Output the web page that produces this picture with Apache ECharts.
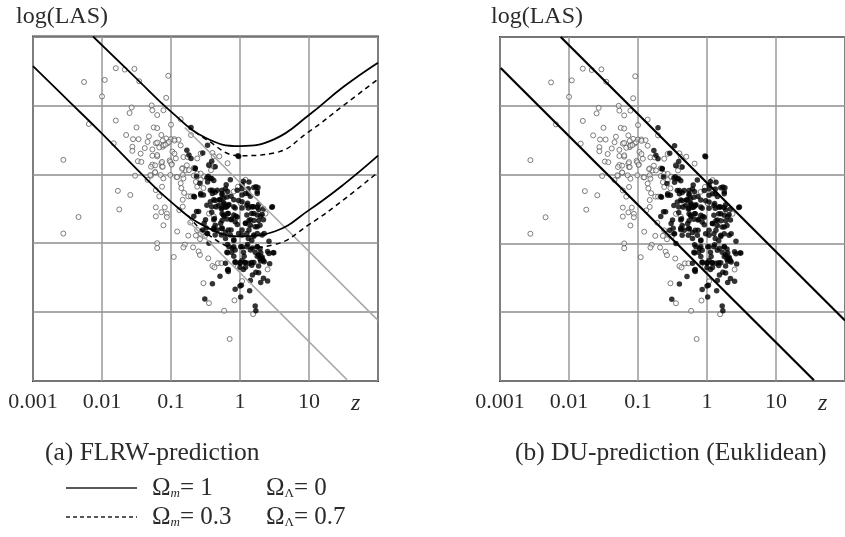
<!DOCTYPE html>
<html><head><meta charset="utf-8">
<style>html,body{margin:0;padding:0;background:#fff}#c{width:845px;height:537px}</style>
<script src="https://cdn.jsdelivr.net/npm/echarts@6/dist/echarts.min.js"></script>
</head><body><div id="c"></div>
<script>
const tickLabels = {'-3':'0.001','-2':'0.01','-1':'0.1','0':'1','1':'10'};

const openPoints = [[-1.80,4.54],[-1.67,4.52],[-1.53,4.53],[-2.26,4.34],[-1.96,4.37],[-1.46,4.35],[-1.04,4.43],[-2.00,4.13],[-1.07,4.11],[-1.28,4.00],[-1.57,3.97],[-1.60,3.89],[-1.27,3.93],[-1.20,3.86],[-1.11,3.93],[-1.80,3.78],[-2.19,3.73],[-1.00,3.72],[-1.50,3.68],[-1.25,3.68],[-1.20,3.67],[-1.65,3.57],[-1.83,3.45],[-1.55,3.51],[-1.47,3.51],[-1.56,3.40],[-1.56,3.34],[-2.56,3.21],[-1.38,3.38],[-1.34,3.47],[-1.32,3.55],[-1.44,3.30],[-1.27,3.36],[-1.27,3.27],[-1.20,3.26],[-1.22,3.45],[-1.14,3.57],[-1.07,3.52],[-1.00,3.51],[-0.95,3.51],[-0.89,3.50],[-1.05,3.45],[-1.12,3.40],[-1.11,3.43],[-0.98,3.33],[-0.95,3.30],[-0.86,3.42],[-0.71,3.57],[-0.86,3.80],[-1.48,3.19],[-1.43,3.18],[-1.27,3.14],[-1.14,3.16],[-1.13,3.11],[-1.02,3.20],[-0.99,3.15],[-0.83,3.09],[-0.79,3.06],[-0.74,3.06],[-0.67,3.09],[-0.82,3.25],[-0.76,3.25],[-1.52,2.98],[-1.29,2.98],[-1.23,3.03],[-1.34,2.92],[-0.92,2.96],[-0.83,2.99],[-0.86,2.87],[-0.67,2.98],[-0.62,3.01],[-0.57,3.01],[-0.52,2.97],[-0.57,2.92],[-0.64,2.89],[-1.77,2.76],[-1.59,2.70],[-1.75,2.49],[-2.34,2.38],[-2.56,2.14],[-1.22,2.52],[-1.13,2.82],[-1.22,2.77],[-1.17,2.68],[-1.09,2.52],[-1.14,2.45],[-1.22,2.39],[-1.06,2.43],[-1.06,2.38],[-1.11,2.26],[-0.91,2.17],[-0.75,2.11],[-0.64,2.11],[-0.58,2.06],[-0.51,2.10],[-1.20,2.00],[-1.20,1.93],[-0.80,1.98],[-0.82,1.94],[-0.68,1.94],[-0.60,1.88],[-0.58,1.83],[-0.96,1.80],[-0.46,1.78],[-0.40,1.67],[-0.37,1.65],[-0.32,1.71],[-0.27,1.71],[-0.53,1.42],[-0.45,1.13],[-0.23,1.02],[-0.08,1.17],[-0.15,0.61],[0.19,0.97],[0.03,1.45],[-0.03,1.66],[0.40,1.62],[0.37,2.43],[-0.72,2.30],[-0.88,2.48],[-0.83,2.53],[-0.85,2.80],[-0.81,2.73],[-0.75,2.68],[-0.71,2.68],[-0.83,2.63],[-0.62,2.82],[-0.53,2.80],[-0.45,2.43],[-0.38,2.39],[-0.62,2.19],[-0.57,2.14],[-0.38,3.11],[-0.40,3.31],[-0.30,3.26],[-0.18,3.16],[-0.38,3.26],[-0.45,3.14],[-0.42,3.06],[-0.57,3.30],[-0.62,3.23],[-0.93,3.23],[0.08,2.92],[-0.03,2.82],[-0.09,2.75],[-0.28,2.63],[-0.33,2.24],[0.01,2.58],[-0.33,2.53],[0.13,2.27],[-1.20,3.46],[-1.17,3.39],[-1.12,3.49],[-1.11,3.42],[-1.08,3.43],[-1.03,3.47],[-0.95,3.49],[-1.20,3.28],[-1.29,3.11],[-1.23,3.13],[-1.13,3.18],[-1.12,3.11],[-1.01,3.18],[-0.99,3.14],[-1.23,3.03],[-1.30,2.99],[-1.15,2.99],[-1.11,2.94],[-1.01,2.99],[-0.91,2.96],[-0.82,2.94],[-0.84,3.08],[-0.77,3.13]];

const filledPoints = [[-0.02,3.26],[-0.54,3.31],[-0.45,3.13],[-0.65,3.08],[-0.41,3.19],[-0.36,3.11],[-0.48,2.95],[-0.43,2.94],[-0.38,2.91],[-0.14,2.92],[0.05,2.90],[-0.20,2.85],[-0.21,2.79],[-0.26,2.77],[-0.36,2.74],[-0.40,2.72],[-0.04,2.77],[0.03,2.79],[0.12,2.79],[0.20,2.81],[0.26,2.81],[0.25,2.72],[0.12,2.72],[0.03,2.70],[-0.26,2.70],[-0.29,2.63],[-0.24,2.65],[-0.19,2.67],[-0.43,2.60],[-0.36,2.62],[-0.57,2.70],[-0.66,2.67],[-0.48,2.55],[-0.41,2.53],[-0.31,2.55],[-0.24,2.57],[-0.17,2.55],[-0.09,2.53],[-0.02,2.62],[0.03,2.60],[0.10,2.55],[0.17,2.53],[0.25,2.52],[0.46,2.52],[0.34,2.50],[-0.27,2.50],[-0.21,2.52],[-0.60,2.46],[-0.41,2.45],[-0.26,2.51],[-0.19,2.53],[-0.07,2.51],[0.03,2.51],[0.12,2.51],[0.20,2.53],[0.27,2.49],[0.32,2.42],[0.34,2.34],[-0.24,2.41],[-0.17,2.43],[-0.09,2.41],[-0.04,2.38],[-0.19,2.35],[-0.12,2.35],[-0.07,2.31],[-0.26,2.33],[0.10,2.41],[0.17,2.43],[0.25,2.41],[0.13,2.33],[0.20,2.33],[0.27,2.33],[0.08,2.29],[0.15,2.26],[0.22,2.24],[0.29,2.26],[-0.37,2.36],[-0.36,2.26],[-0.38,2.20],[-0.36,2.12],[-0.49,2.22],[-0.48,2.14],[-0.45,2.00],[-0.26,2.21],[-0.21,2.16],[-0.27,2.12],[-0.17,2.19],[-0.14,2.12],[-0.09,2.04],[-0.21,2.07],[-0.02,2.14],[0.03,2.12],[0.10,2.14],[0.12,2.07],[0.20,2.12],[0.25,2.14],[0.32,2.12],[0.17,2.04],[0.42,2.03],[-0.16,1.95],[-0.09,1.95],[-0.19,1.87],[-0.12,1.87],[-0.07,1.90],[0.03,1.95],[0.10,1.95],[0.05,1.87],[0.15,1.90],[0.25,1.95],[0.29,1.92],[0.22,1.87],[0.27,1.83],[0.32,1.80],[0.29,1.77],[0.34,1.75],[0.42,1.85],[0.49,1.86],[0.03,1.75],[-0.07,1.73],[-0.21,1.71],[0.00,1.71],[0.08,1.72],[0.20,1.72],[-0.07,1.72],[0.00,1.72],[0.07,1.72],[0.17,1.72],[0.30,1.74],[0.43,1.70],[0.27,1.67],[0.17,1.68],[-0.17,1.62],[-0.17,1.59],[0.00,1.65],[0.08,1.65],[0.05,1.62],[-0.29,1.52],[0.23,1.58],[0.27,1.57],[0.18,1.54],[0.34,1.49],[0.40,1.45],[0.30,1.43],[0.15,1.46],[-0.40,1.41],[0.02,1.39],[0.00,1.38],[-0.07,1.33],[0.14,1.31],[0.01,1.22],[-0.51,1.19],[0.22,1.09],[0.23,1.02],[-0.71,3.68],[-0.47,3.42],[-0.03,3.27],[-0.77,3.35],[-0.74,3.28],[-0.71,3.23],[-0.65,3.09],[-0.63,2.97],[-0.46,2.97],[-0.41,2.94],[-0.58,2.87],[-0.53,2.70],[-0.67,2.68],[-0.63,2.46],[-0.67,2.39],[-0.57,2.72],[-0.50,2.34],[-0.52,2.29],[-0.54,2.19],[-0.47,2.14],[-0.38,2.22],[-0.18,1.61],
[-0.33,2.77],[-0.26,2.72],[-0.18,2.75],[-0.13,2.68],[-0.30,2.63],[-0.23,2.58],[-0.35,2.53],[-0.16,2.56],[-0.09,2.63],[0.08,2.72],[0.15,2.68],[0.25,2.75],[0.23,2.82],[0.13,2.89],[0.03,2.85],[0.11,2.58],[0.18,2.53],[0.27,2.56],[0.20,2.43],[0.30,2.39],[0.15,2.34],[0.08,2.29],[-0.06,2.39],[-0.13,2.34],[-0.23,2.39],[-0.18,2.43],[-0.28,2.29],[-0.38,2.34],[-0.33,2.19],[-0.26,2.22],[-0.13,2.19],[-0.04,2.27],[0.03,2.19],[0.13,2.19],[0.25,2.24],[0.35,2.14],[0.20,2.10],[-0.09,2.05],[-0.18,1.98],[-0.11,1.93],[0.01,1.95],[0.11,1.98],[0.18,1.93],[0.25,1.95],[0.30,1.86],[0.40,1.88],[0.25,1.81],[0.32,1.78],[0.35,1.73],[-0.18,1.86],[-0.09,1.81],[0.06,1.81],[0.13,1.71],[0.47,2.53],[0.48,1.86],[-0.26,2.43],[-0.38,2.63],[-0.43,2.77],[-0.47,2.89],[-0.40,2.77]];

const upperSolid = [[-2.13,5],[-1.5,4.39],[-1,3.91],[-0.5,3.53],[0,3.41],[0.5,3.51],[1,3.86],[1.5,4.27],[2,4.62]];
const upperDashed = [[-0.75,3.70],[-0.5,3.51],[0,3.27],[0.5,3.31],[1,3.62],[1.5,4.0],[2,4.38]];
const lowerSolid = [[-3,4.57],[-2.5,4.08],[-2,3.59],[-1.5,3.08],[-1,2.6],[-0.5,2.24],[0,2.1],[0.5,2.17],[1,2.48],[1.5,2.85],[2,3.27]];
const lowerDashed = [[-0.75,2.40],[-0.5,2.15],[0,1.93],[0.5,1.98],[1,2.27],[1.5,2.63],[2,3.03]];
const fadedUpper = [[-0.8,3.68],[2,0.88]];
const fadedLower = [[-0.74,2.31],[1.55,0.02]];
const duUpper = [[-2.12,5],[2,0.88]];
const duLower = [[-2.99,4.55],[1.55,0.01]];

const serif = '"Liberation Serif","DejaVu Serif",serif';
const ink = '#2b2b2b';

function axes(i){
  return {
    x:{gridIndex:i,type:'value',min:-3,max:2,interval:1,
      axisLine:{show:false},axisTick:{show:false},
      splitLine:{show:true,lineStyle:{color:'#999',width:1.5}},
      axisLabel:{fontFamily:serif,fontSize:22,color:ink,margin:10,showMinLabel:true,showMaxLabel:false,
        formatter:v=>tickLabels[String(v)]||''}},
    y:{gridIndex:i,type:'value',min:0,max:5,interval:1,
      axisLine:{show:false},axisTick:{show:false},axisLabel:{show:false},
      splitLine:{show:true,lineStyle:{color:'#8c8c8c',width:1.5}}}
  };
}
const a0=axes(0),a1=axes(1);

function open(i){return {type:'scatter',xAxisIndex:i,yAxisIndex:i,data:openPoints,symbolSize:5,z:3,silent:true,
  itemStyle:{color:'rgba(255,255,255,0.6)',borderColor:'#5e5e5e',borderWidth:1}};}
function filled(i){return {type:'scatter',xAxisIndex:i,yAxisIndex:i,data:filledPoints,symbolSize:5.5,z:4,silent:true,
  itemStyle:{color:'#000'}};}
function line(i,data,color,width,type,smooth){return {type:'line',xAxisIndex:i,yAxisIndex:i,data,symbol:'none',smooth:smooth?0.45:false,z:5,silent:true,
  lineStyle:{color,width,type:type||'solid'}};}

function txt(x,y,text,size,extra){return {type:'text',x,y,silent:true,style:Object.assign({text,fontFamily:serif,fontSize:size,fill:ink,textVerticalAlign:'middle'},extra||{})};}
const rich={a:{fontFamily:serif,fontSize:25,color:ink},s:{fontFamily:serif,fontStyle:'italic',fontSize:13,color:ink,verticalAlign:'bottom',padding:[10,0,0,0]},l:{fontFamily:serif,fontSize:13,color:ink,verticalAlign:'bottom',padding:[10,0,0,0]}};
function rtxt(x,y,s){return {type:'text',x,y,silent:true,style:{text:s,rich,fontFamily:serif,fontSize:25,fill:ink,textVerticalAlign:'middle'}};}

const chart=echarts.init(document.getElementById('c'),null,{renderer:'canvas'});
chart.setOption({
  animation:false,backgroundColor:'#fff',
  grid:[
    {left:33,top:36.5,width:345,height:344.5,show:true,borderColor:'#333',borderWidth:2,backgroundColor:'transparent'},
    {left:500,top:37,width:346,height:344,show:true,borderColor:'#333',borderWidth:2,backgroundColor:'transparent'}
  ],
  xAxis:[a0.x,a1.x],yAxis:[a0.y,a1.y],
  series:[
    open(0),filled(0),
    line(0,fadedUpper,'#a8a8a8',1.5),line(0,fadedLower,'#a8a8a8',1.5),
    line(0,upperSolid,'#000',1.8,'solid',true),line(0,upperDashed,'#000',1.5,[5,4],true),
    line(0,lowerSolid,'#000',1.8,'solid',true),line(0,lowerDashed,'#000',1.5,[5,4],true),
    open(1),filled(1),
    line(1,duUpper,'#000',2.2),line(1,duLower,'#000',2.2)
  ],
  graphic:[
    txt(16,17,'log(LAS)',24),
    txt(491,17,'log(LAS)',24),
    txt(351,404,'z',24,{fontStyle:'italic'}),
    txt(818,404,'z',24,{fontStyle:'italic'}),
    txt(45,453,'(a) FLRW-prediction',25.5),
    txt(515,453,'(b) DU-prediction (Euklidean)',25.5),
    {type:'line',silent:true,shape:{x1:66,y1:488,x2:137,y2:488},style:{stroke:'#222',lineWidth:1.3}},
    {type:'line',silent:true,shape:{x1:66,y1:517,x2:137,y2:517},style:{stroke:'#222',lineWidth:1.3,lineDash:[4,3]}},
    rtxt(152,488,'{a|Ω}{s|m}{a|= 1}'),
    rtxt(266,488,'{a|Ω}{l|Λ}{a|= 0}'),
    rtxt(152,517,'{a|Ω}{s|m}{a|= 0.3}'),
    rtxt(266,517,'{a|Ω}{l|Λ}{a|= 0.7}')
  ]
});
</script></body></html>
